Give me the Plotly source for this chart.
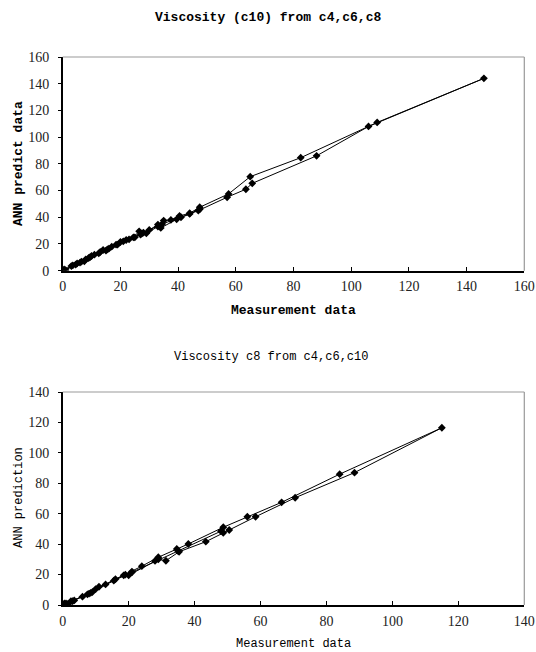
import plotly.graph_objects as go

# ---------------- data ----------------
# Chart 1: Viscosity (c10) from c4,c6,c8 (points in series order)
c10_meas = [0.5, 3.5, 5, 6.5, 8, 9.5, 11, 12.5, 14, 15.5, 17, 18.5, 20, 22, 24.5, 26.5, 28, 30,
            33, 35, 37.5, 40.5, 44, 47.5, 57.5, 65, 82.5, 109, 146,
            106, 88, 65.7, 63.5, 57, 47, 44, 39.5, 34, 33, 29, 27, 25, 21, 16, 13, 10, 7.5, 6, 4.5, 1,
            3, 9, 15, 19, 23, 27.5, 34.5, 41, 47.5]
c10_pred = [1.0, 4.0, 5.5, 6.8, 8.5, 10.2, 12.0, 13.0, 15.5, 16.0, 18.0, 19.5, 21.5, 23.0, 25.0, 29.5, 28.5, 30.5,
            34.5, 37.5, 38.0, 41.0, 43.0, 47.5, 57.5, 70.4, 84.6, 111, 144,
            108, 86, 65.4, 61, 55, 45, 42.5, 38.5, 32, 33, 28, 27, 25, 22, 16.5, 14, 11, 7, 6, 4.5, 0.5,
            3.5, 9.5, 15, 19.5, 23.5, 28, 35, 40, 46]

# Chart 2: Viscosity c8 from c4,c6,c10 (points in series order)
c8_meas = [0.5, 1.5, 3, 6, 7.5, 9, 11, 13, 16, 19, 21, 24, 29, 34.6, 38.1, 48.7, 56, 66.4, 84, 115,
           88.5, 70.5, 58.5, 50.5, 48.7, 43.4, 35.3, 31.3, 29, 20, 18.5, 10, 8, 3.5, 1,
           2.5, 8.5, 15.5, 21, 28, 35, 48]
c8_pred = [1, 0.5, 2.5, 5.5, 7, 8.5, 12, 13.5, 17, 20, 22, 25.5, 31.4, 36.8, 40.1, 51.1, 58, 67.5, 86, 116.5,
           87, 70.5, 58, 49.3, 47.5, 41.6, 35, 29.1, 30, 19.5, 19.5, 10.5, 7.5, 3, 1,
           2.5, 8, 16, 21.5, 29, 35.5, 48.5]

x1_ticks = [0, 20, 40, 60, 80, 100, 120, 140, 160]
y1_ticks = [0, 20, 40, 60, 80, 100, 120, 140, 160]
x2_ticks = [0, 20, 40, 60, 80, 100, 120, 140]
y2_ticks = [0, 20, 40, 60, 80, 100, 120, 140]

title1 = "Viscosity (c10) from c4,c6,c8"
title2 = "Viscosity c8 from c4,c6,c10"

# ---------------- figure ----------------
W, H = 536, 652
fig = go.Figure()

marker = dict(symbol="diamond", size=6, color="black")
line = dict(color="black", width=1)

fig.add_trace(go.Scatter(x=c10_meas, y=c10_pred, mode="lines+markers", marker=marker, line=line,
                         xaxis="x", yaxis="y", showlegend=False))
fig.add_trace(go.Scatter(x=c8_meas, y=c8_pred, mode="lines+markers", marker=marker, line=line,
                         xaxis="x2", yaxis="y2", showlegend=False))

def px_x(p):
    return p / W

def px_y(p):
    return (H - p) / H

dom_x = [px_x(62.7), px_x(524.3)]
dom_y1 = [px_y(270.7), px_y(57)]
dom_y2 = [px_y(605), px_y(392)]

tickfont = dict(family="'Liberation Serif', 'Times New Roman', Times, serif", size=14, color="#222")

def xaxis(dom, ticks, rng, anchor):
    return dict(domain=dom, range=rng, tickvals=ticks, showgrid=False, zeroline=False,
                showline=True, linecolor="black", linewidth=1.5, ticks="inside", ticklen=4,
                tickcolor="black", tickfont=tickfont, anchor=anchor, fixedrange=True,
                ticklabelstandoff=2, automargin=False, ticklabeloverflow="allow")

def yaxis(dom, ticks, rng, anchor):
    return dict(domain=dom, range=rng, tickvals=ticks, showgrid=False, zeroline=False,
                showline=True, linecolor="black", linewidth=1.5, ticks="outside", ticklen=3,
                tickcolor="black", tickfont=tickfont, anchor=anchor, fixedrange=True,
                ticklabelstandoff=6, automargin=False, ticklabeloverflow="allow")

fig.update_layout(
    width=W, height=H,
    margin=dict(l=0, r=0, t=0, b=0),
    paper_bgcolor="white", plot_bgcolor="white",
    xaxis=xaxis(dom_x, x1_ticks, [0, 160], "y"),
    yaxis=yaxis(dom_y1, y1_ticks, [0, 160], "x"),
    xaxis2=xaxis(dom_x, x2_ticks, [0, 140], "y2"),
    yaxis2=yaxis(dom_y2, y2_ticks, [0, 140], "x2"),
)

# grey top/right borders
for xr, yr in [("x domain", "y domain"), ("x2 domain", "y2 domain")]:
    fig.add_shape(type="line", xref=xr, yref=yr, x0=0, x1=1, y0=1, y1=1,
                  line=dict(color="#999", width=1.2))
    fig.add_shape(type="line", xref=xr, yref=yr, x0=1, x1=1, y0=0, y1=1,
                  line=dict(color="#999", width=1.2))

mono_b = "'Liberation Mono', 'Courier New', monospace"
ann = [
    dict(text="<b>" + title1 + "</b>", x=px_x(268), y=px_y(18), size=13),
    dict(text="<b>Measurement data</b>", x=px_x(293), y=px_y(310), size=13),
    dict(text="<b>ANN predict data</b>", x=px_x(18), y=px_y(164), size=13, angle=-90),
    dict(text=title2, x=px_x(271), y=px_y(357), size=12),
    dict(text="Measurement data", x=px_x(293), y=px_y(644), size=12),
    dict(text="ANN prediction", x=px_x(19), y=px_y(498), size=12, angle=-90),
]
for a in ann:
    fig.add_annotation(text=a["text"], x=a["x"], y=a["y"], xref="paper", yref="paper",
                       xanchor="center", yanchor="middle", showarrow=False,
                       textangle=a.get("angle", 0),
                       font=dict(family=mono_b, size=a["size"], color="black"))

fig.write_html("out.html")
